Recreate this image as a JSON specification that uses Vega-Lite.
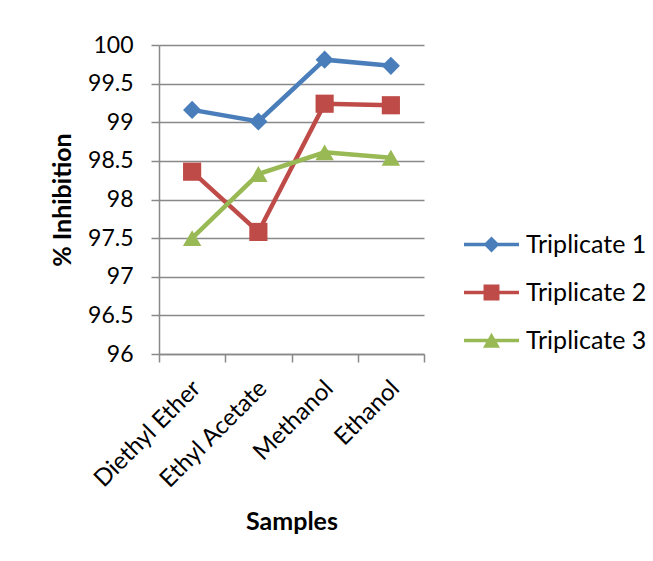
{
  "$schema": "https://vega.github.io/schema/vega-lite/v6.json",
  "autosize": "none",
  "width": 265,
  "height": 309,
  "padding": {"left": 159, "top": 45, "right": 229, "bottom": 207},
  "background": "white",
  "data": {"values": [
    {"sample": "Diethyl Ether", "series": "Triplicate 1", "value": 99.16},
    {"sample": "Ethyl Acetate", "series": "Triplicate 1", "value": 99.01},
    {"sample": "Methanol", "series": "Triplicate 1", "value": 99.81},
    {"sample": "Ethanol", "series": "Triplicate 1", "value": 99.73},
    {"sample": "Diethyl Ether", "series": "Triplicate 2", "value": 98.36},
    {"sample": "Ethyl Acetate", "series": "Triplicate 2", "value": 97.58},
    {"sample": "Methanol", "series": "Triplicate 2", "value": 99.24},
    {"sample": "Ethanol", "series": "Triplicate 2", "value": 99.22},
    {"sample": "Diethyl Ether", "series": "Triplicate 3", "value": 97.5},
    {"sample": "Ethyl Acetate", "series": "Triplicate 3", "value": 98.33},
    {"sample": "Methanol", "series": "Triplicate 3", "value": 98.61},
    {"sample": "Ethanol", "series": "Triplicate 3", "value": 98.54}
  ]},
  "config": {
    "font": "Lato",
    "view": {"stroke": null},
    "axis": {"labelFont": "Lato", "titleFont": "Lato", "labelColor": "#000000", "titleColor": "#000000"},
    "legend": {"symbolStrokeWidth": 0, "symbolOpacity": 1}
  },
  "encoding": {
    "x": {
      "field": "sample", "type": "nominal",
      "sort": ["Diethyl Ether", "Ethyl Acetate", "Methanol", "Ethanol"],
      "scale": {"paddingInner": 0, "paddingOuter": 0},
      "axis": {
        "title": "Samples", "titleFontSize": 25, "titleFontWeight": "bold", "titlePadding": 17,
        "labelAngle": -45, "labelFontSize": 24, "labelPadding": 14, "labelOffset": -4,
        "tickBand": "extent", "tickSize": 8, "tickColor": "#898989", "tickWidth": 1.5,
        "domainColor": "#898989", "domainWidth": 1.5, "grid": false
      }
    },
    "y": {
      "field": "value", "type": "quantitative",
      "scale": {"domain": [96, 100], "nice": false, "zero": false},
      "axis": {
        "title": "% Inhibition", "titleFontSize": 25, "titleFontWeight": "bold", "titlePadding": 12,
        "values": [96, 96.5, 97, 97.5, 98, 98.5, 99, 99.5, 100], "format": "~g",
        "labelFontSize": 23, "labelPadding": 18, "tickSize": 8, "tickColor": "#898989", "tickWidth": 1.5,
        "domainColor": "#898989", "domainWidth": 1.5,
        "grid": true, "gridColor": "#898989", "gridWidth": 1.5
      }
    },
    "color": {"field": "series", "type": "nominal",
      "scale": {"domain": ["Triplicate 1", "Triplicate 2", "Triplicate 3"], "range": ["#4A7EBB", "#BE4B48", "#98B954"]},
      "legend": {"title": null, "orient": "none", "legendX": 305, "legendY": 172,
        "labelFontSize": 25, "labelFont": "Lato", "labelColor": "#000000", "labelOffset": 7,
        "symbolSize": 3025, "symbolStrokeWidth": 0, "rowPadding": 7, "symbolOpacity": 1}}
  },
  "layer": [
    {
      "mark": {"type": "line", "strokeWidth": 4.5}
    },
    {
      "transform": [{"filter": "datum.series === 'Triplicate 1'"}],
      "mark": {"type": "point", "filled": true, "opacity": 1, "size": 330, "shape": "diamond"}
    },
    {
      "transform": [{"filter": "datum.series === 'Triplicate 2'"}],
      "mark": {"type": "point", "filled": true, "opacity": 1, "size": 330, "shape": "square"}
    },
    {
      "transform": [{"filter": "datum.series === 'Triplicate 3'"}],
      "mark": {"type": "point", "filled": true, "opacity": 1, "size": 340, "shape": "triangle-up"}
    },
    {
      "transform": [{"filter": "datum.value > 200"}],
      "mark": {"type": "point", "filled": true, "opacity": 1},
      "encoding": {
        "shape": {"field": "series", "type": "nominal",
          "scale": {"domain": ["Triplicate 1", "Triplicate 2", "Triplicate 3"],
            "range": ["M-1,-0.064H1V0.064H-1Z M-0.29,0L0,-0.29L0.29,0L0,0.29Z",
                      "M-1,-0.064H1V0.064H-1Z M-0.29,-0.29H0.29V0.29H-0.29Z",
                      "M-1,-0.064H1V0.064H-1Z M0,-0.28L0.31,0.26H-0.31Z"]},
          "legend": {"title": null, "orient": "none", "legendX": 305, "legendY": 172,
            "labelFontSize": 25, "labelFont": "Lato", "labelColor": "#000000", "labelOffset": 7,
            "symbolSize": 3025, "symbolStrokeWidth": 0, "rowPadding": 7, "symbolOpacity": 1}}
      }
    }
  ]
}
